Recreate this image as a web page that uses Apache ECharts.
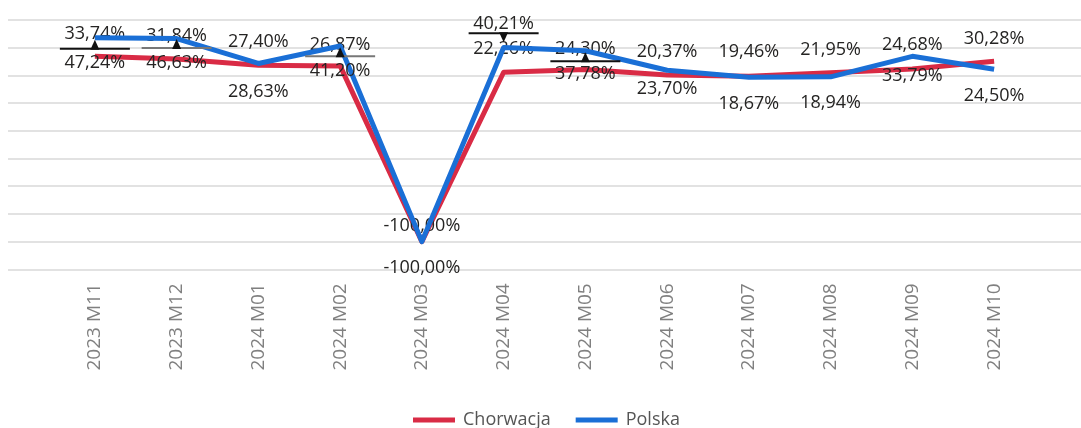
<!DOCTYPE html>
<html>
<head>
<meta charset="utf-8">
<script src="https://cdn.jsdelivr.net/npm/echarts@6/dist/echarts.min.js"></script>
<style>
  html, body { margin: 0; padding: 0; background: #fff; }
  #chart { width: 1081px; height: 428px; }
</style>
</head>
<body>
<div id="chart"></div>
<script>
// categories + values
const months = ['2023 M11', '2023 M12', '2024 M01', '2024 M02', '2024 M03', '2024 M04',
  '2024 M05', '2024 M06', '2024 M07', '2024 M08', '2024 M09', '2024 M10']
const chorwacja = [33.74, 31.84, 27.40, 26.87, -100, 22.26, 24.30, 20.37, 19.46, 21.95, 24.68, 30.28]
const polska = [47.24, 46.63, 28.63, 41.20, -100, 40.21, 37.78, 23.70, 18.67, 18.94, 33.79, 24.50]
const yTicks = [-120, -100, -80, -60, -40, -20, 0, 20, 40, 60]

// the little bar + arrow markers sitting between some label pairs
const markIdx = [0, 1, 3, 5, 6]
const markVal = [39.3, 39.7, 33.9, 50.4, 30.3]
const markDir = [1, 1, 1, -1, 1]

// label placement (vertical shift of label centre, px)
const shiftC = [-22, -23, -23, -21, -16, -23, -21, -23, -24, -23, -24, -22]
const shiftP = [25, 24, 28, 25, 26, -24, 23, 19, 27, 26, 20, 27]
const markColor = ['#111', '#777', '#777', '#111', '#111']

const RED = '#D92B45'
const BLUE = '#1A6FD6'
const FONT = '"Open Sans", "Noto Sans", sans-serif'

const fmt = v => v.toFixed(2).replace('.', ',') + '%'

const chart = echarts.init(document.getElementById('chart'))

function lineData(vals, shifts) {
  return vals.map((v, i) => ({
    value: v,
    label: { offset: [0, shifts[i]] }
  }))
}

const option = {
  animation: false,
  textStyle: { fontFamily: FONT },
  grid: [
    { left: 8, right: 0, top: 20, bottom: 158.7 },
    { left: 54, right: 46, top: 20, bottom: 158.7 }
  ],
  legend: {
    data: ['Chorwacja', 'Polska'],
    left: 408,
    top: 406,
    icon: 'rect',
    itemWidth: 42,
    itemHeight: 5,
    itemGap: 25,
    textStyle: { fontSize: 18, color: '#555', fontFamily: FONT, padding: [0, 0, 0, 3] }
  },
  xAxis: [
    { gridIndex: 0, type: 'value', min: 0, max: 1, show: false },
    {
      gridIndex: 1,
      type: 'category',
      data: months,
      boundaryGap: true,
      axisLine: { show: false },
      axisTick: { show: false },
      axisLabel: {
        rotate: 90,
        margin: 14,
        fontSize: 19,
        color: '#808080',
        fontFamily: FONT
      }
    }
  ],
  yAxis: [
    {
      gridIndex: 0,
      type: 'value',
      min: yTicks[0],
      max: yTicks[yTicks.length - 1],
      interval: 20,
      axisLabel: { show: false },
      axisLine: { show: false },
      axisTick: { show: false },
      splitLine: { lineStyle: { color: '#e2e2e2', width: 2 } }
    },
    {
      gridIndex: 1,
      type: 'value',
      min: yTicks[0],
      max: yTicks[yTicks.length - 1],
      interval: 20,
      show: false,
      splitLine: { show: false }
    }
  ],
  series: [
    {
      name: 'Chorwacja',
      type: 'line',
      xAxisIndex: 1,
      yAxisIndex: 1,
      data: lineData(chorwacja, shiftC),
      symbol: 'circle',
      symbolSize: 0,
      showSymbol: true,
      lineStyle: { color: RED, width: 5, join: 'round' },
      itemStyle: { color: RED },
      label: {
        show: true,
        position: 'inside',
        formatter: p => fmt(p.value),
        fontSize: 18,
        color: '#252423',
        fontFamily: FONT
      },
      z: 3
    },
    {
      name: 'Polska',
      type: 'line',
      xAxisIndex: 1,
      yAxisIndex: 1,
      data: lineData(polska, shiftP),
      symbol: 'circle',
      symbolSize: 0,
      showSymbol: true,
      lineStyle: { color: BLUE, width: 5, join: 'round' },
      itemStyle: { color: BLUE },
      label: {
        show: true,
        position: 'inside',
        formatter: p => fmt(p.value),
        fontSize: 18,
        color: '#252423',
        fontFamily: FONT
      },
      z: 4
    },
    {
      name: 'marks',
      type: 'custom',
      xAxisIndex: 1,
      yAxisIndex: 1,
      silent: true,
      z: 5,
      data: markIdx.map((idx, i) => [idx, markVal[i], markDir[i], i]),
      renderItem(params, api) {
        const pt = api.coord([api.value(0), api.value(1)])
        const dir = api.value(2)
        const col = markColor[api.value(3)]
        const x = pt[0]
        const y = pt[1]
        const h = 9
        return {
          type: 'group',
          children: [
            {
              type: 'line',
              shape: { x1: x - 35, y1: y, x2: x + 35, y2: y },
              style: { stroke: col, lineWidth: 2 }
            },
            {
              type: 'polygon',
              shape: {
                points: [[x - 4.5, y + (dir > 0 ? 1 : -1)], [x + 4.5, y + (dir > 0 ? 1 : -1)], [x, y - dir * h]]
              },
              style: { fill: '#111' }
            }
          ]
        }
      }
    }
  ]
}

chart.setOption(option)
window.addEventListener('resize', () => {
  chart.resize()
})
</script>
</body>
</html>
